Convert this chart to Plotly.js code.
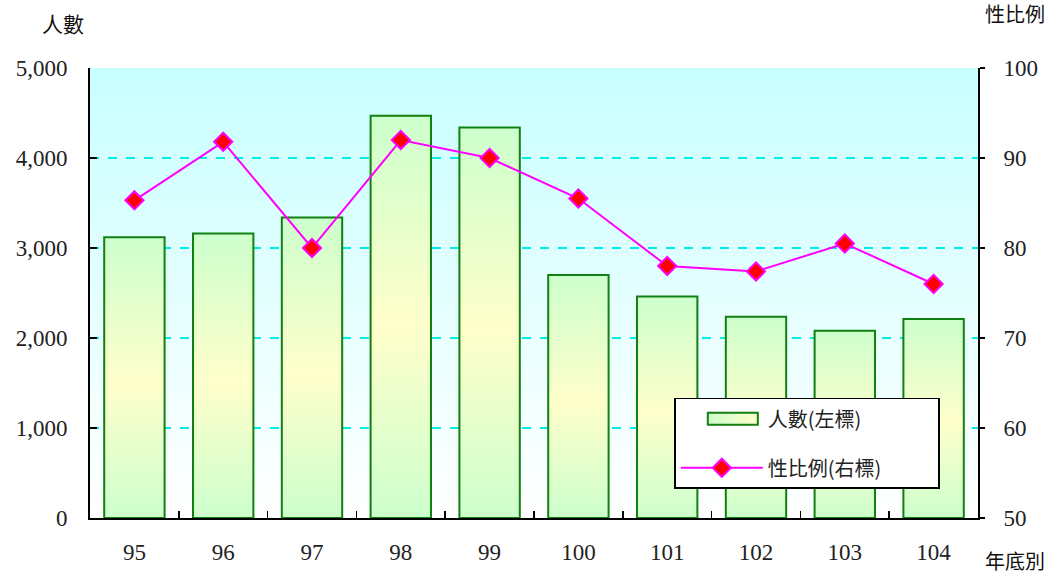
<!DOCTYPE html>
<html>
<head>
<meta charset="utf-8">
<script src="https://cdn.plot.ly/plotly-3.0.1.min.js"></script>
<style>
html,body{margin:0;padding:0;background:#fff;}
#chart{width:1061px;height:577px;}
</style>
</head>
<body>
<div id="chart"></div>
<script>
// Data
const years = ['95','96','97','98','99','100','101','102','103','104'];
const people = [3120, 3160, 3340, 4470, 4340, 2700, 2460, 2235, 2080, 2210];
const sexRatio = [85.3, 91.8, 80.0, 92.0, 90.0, 85.5, 78.0, 77.4, 80.5, 76.0];
const leftTitle = '人數';
const rightTitle = '性比例';
const xTitle = '年底別';
const barName = '人數(左標)';
const lineName = '性比例(右標)';

const numFont = "'Liberation Serif', 'Times New Roman', serif";
const cjkFont = "'Noto Sans CJK TC', 'Noto Sans CJK SC', sans-serif";

const traces = [
  {
    type: 'bar', x: years, y: people, name: barName, yaxis: 'y',
    legendgroup: 'a',
    marker: {color: '#e6ffcc', line: {color: '#108010', width: 2}},
    hoverinfo: 'x+y'
  },
  {
    type: 'scatter', mode: 'lines+markers', x: years, y: sexRatio, name: lineName, yaxis: 'y2',
    legendgroup: 'b',
    line: {color: '#ff00ff', width: 2},
    marker: {symbol: 'diamond', size: 14, color: '#ff0000', line: {color: '#ff00ff', width: 2}}
  }
];

const layout = {
  width: 1061, height: 577,
  margin: {l: 90, r: 83, t: 68, b: 59},
  paper_bgcolor: '#ffffff',
  plot_bgcolor: '#e8ffff',
  bargap: 0.32,
  showlegend: true,
  legend: {
    x: 0.658, y: 0.267, xanchor: 'left', yanchor: 'top',
    bgcolor: '#ffffff', bordercolor: '#000000', borderwidth: 1.5,
    font: {family: cjkFont, size: 20, color: '#222'},
    traceorder: 'grouped', tracegroupgap: 20,
    itemwidth: 82
  },
  xaxis: {
    type: 'category', range: [-0.5, 9.5],
    showline: true, linecolor: '#000', linewidth: 2,
    ticks: 'inside', tickson: 'boundaries', ticklen: 7, tickcolor: '#000', tickwidth: 1.5,
    tickfont: {family: numFont, size: 23, color: '#222'},
    ticklabelstandoff: 12,
    showgrid: false, zeroline: false, mirror: false
  },
  yaxis: {
    range: [0, 5000], dtick: 1000, tickformat: ',d',
    showline: true, linecolor: '#000', linewidth: 2,
    ticks: 'inside', ticklen: 7, tickcolor: '#000', tickwidth: 2,
    tickfont: {family: numFont, size: 23, color: '#222'},
    ticklabelstandoff: 16,
    showgrid: true, gridcolor: '#00eeee', griddash: 'dash', gridwidth: 1.5,
    zeroline: false
  },
  yaxis2: {
    range: [50, 100], dtick: 10, overlaying: 'y', side: 'right',
    showline: true, linecolor: '#000', linewidth: 2,
    ticks: 'outside', ticklen: 5, tickcolor: '#000', tickwidth: 2,
    tickfont: {family: numFont, size: 23, color: '#222'},
    ticklabelstandoff: 14,
    showgrid: false, zeroline: false
  },
  annotations: [
    {text: leftTitle, xref: 'paper', yref: 'paper', x: -0.03, y: 1.1, xanchor: 'center', yanchor: 'middle',
     showarrow: false, font: {family: cjkFont, size: 21, color: '#111'}},
    {text: rightTitle, xref: 'paper', yref: 'paper', x: 1.042, y: 1.12, xanchor: 'center', yanchor: 'middle',
     showarrow: false, font: {family: cjkFont, size: 20, color: '#111'}},
    {text: xTitle, xref: 'paper', yref: 'paper', x: 1.042, y: -0.095, xanchor: 'center', yanchor: 'middle',
     showarrow: false, font: {family: cjkFont, size: 20, color: '#111'}}
  ]
};

function addGradients(gd) {
  const svg = gd.querySelector('svg.main-svg');
  if (!svg) return;
  let defs = svg.querySelector('defs');
  const ns = 'http://www.w3.org/2000/svg';
  if (!defs) { defs = document.createElementNS(ns, 'defs'); svg.insertBefore(defs, svg.firstChild); }
  function mk(id, x2, y2, stops) {
    if (defs.querySelector('#' + id)) return;
    const g = document.createElementNS(ns, 'linearGradient');
    g.setAttribute('id', id);
    g.setAttribute('x1', '0'); g.setAttribute('y1', '0');
    g.setAttribute('x2', x2); g.setAttribute('y2', y2);
    stops.forEach(s => {
      const st = document.createElementNS(ns, 'stop');
      st.setAttribute('offset', s[0]);
      st.setAttribute('stop-color', s[1]);
      g.appendChild(st);
    });
    defs.appendChild(g);
  }
  mk('barGrad', '0', '1', [['0', '#ccffcc'], ['0.52', '#ffffcc'], ['1', '#ccffcc']]);
  mk('barGradH', '1', '0', [['0', '#ccffcc'], ['1', '#ffffcc']]);
  mk('bgGrad', '0', '1', [['0', '#c8ffff'], ['0.75', '#f2ffff'], ['1', '#ffffff']]);
  gd.querySelectorAll('.barlayer .point path').forEach(p => { p.style.fill = 'url(#barGrad)'; });
  // legend swatch of the bar trace: make it a wide rectangle like the reference
  const legTraces = document.querySelectorAll('.legend .traces');
  legTraces.forEach(t => {
    const txt = t.querySelector('text');
    if (txt && txt.textContent === barName) {
      t.querySelectorAll('.legendpoints path').forEach(p => {
        p.setAttribute('d', 'M36,6H-14V-6H36Z');
        p.style.fill = 'url(#barGradH)';
        p.style.stroke = '#108010';
        p.style.strokeWidth = '2px';
      });
    }
  });
  gd.querySelectorAll('.bglayer .bg').forEach(r => { r.style.fill = 'url(#bgGrad)'; });
  // widen legend box to match the reference
  const lbg = gd.querySelector('.legend rect.bg');
  if (lbg) {
    const w = parseFloat(lbg.getAttribute('width'));
    if (w < 264) lbg.setAttribute('width', 264);
  }
}

const gd = document.getElementById('chart');
Plotly.newPlot(gd, traces, layout, {displayModeBar: false, staticPlot: true}).then(() => {
  addGradients(gd);
  setTimeout(() => addGradients(gd), 50);
  gd.on && gd.on('plotly_afterplot', () => addGradients(gd));
});
</script>
</body>
</html>
